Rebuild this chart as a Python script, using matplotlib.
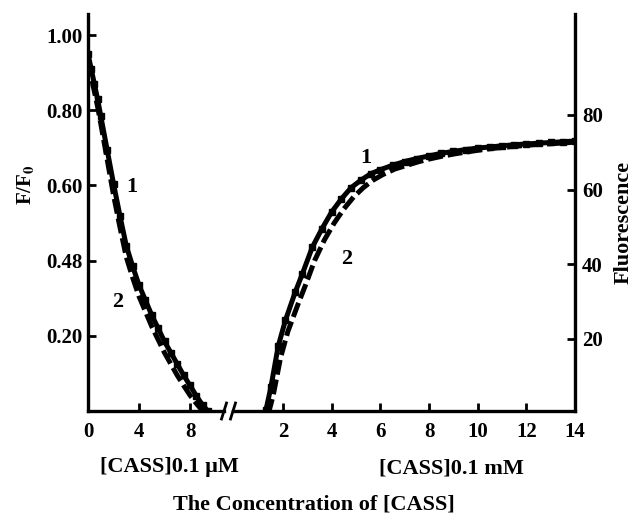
import matplotlib
matplotlib.use("Agg")
import matplotlib.pyplot as plt

# left branch: F/F0 vs [CASS] (0.1 uM units)
left_x1 = [0, 0.25, 0.5, 0.75, 1.0, 1.5, 2.0, 2.5, 3.0, 3.5, 4.0, 4.5, 5.0,
           5.5, 6.0, 6.5, 7.0, 7.5, 8.0, 8.5, 9.0, 9.4]
left_f1 = [0.95, 0.91, 0.87, 0.83, 0.785, 0.695, 0.605, 0.52, 0.44, 0.385,
           0.335, 0.295, 0.255, 0.22, 0.185, 0.155, 0.125, 0.095, 0.068,
           0.04, 0.015, 0.0]
left_x2 = [0, 0.25, 0.5, 0.75, 1.0, 1.5, 2.0, 2.5, 3.0, 3.5, 4.0, 4.5, 5.0,
           5.5, 6.0, 6.5, 7.0, 7.5, 8.0, 8.5, 9.0]
left_f2 = [0.93, 0.89, 0.85, 0.81, 0.765, 0.67, 0.575, 0.49, 0.41, 0.355,
           0.305, 0.265, 0.225, 0.19, 0.155, 0.125, 0.095, 0.068, 0.042,
           0.02, 0.0]

# right branch: fluorescence vs [CASS] (0.1 mM units)
right_x1 = [1.3, 1.5, 1.8, 2.1, 2.5, 2.8, 3.2, 3.6, 4.0, 4.4, 4.8, 5.2, 5.6,
            6.0, 6.5, 7.0, 7.5, 8.0, 8.5, 9.0, 9.5, 10, 10.5, 11, 11.5, 12,
            12.5, 13, 13.5, 14]
right_fl1 = [1, 7, 18, 25, 32.5, 37.5, 44.5, 49.5, 54, 57.5, 60.5, 62.5,
             64.2, 65.3, 66.5, 67.5, 68.3, 69.0, 69.7, 70.2, 70.7, 71.1, 71.4,
             71.7, 72.0, 72.2, 72.4, 72.6, 72.8, 73.0]
right_x2 = [1.4, 1.6, 1.9, 2.2, 2.6, 2.9, 3.3, 3.7, 4.1, 4.5, 4.9, 5.3, 5.7,
            6.1, 6.6, 7.1, 7.6, 8.1, 8.6, 9.1, 9.6, 10.1, 10.6, 11.1, 11.6,
            12.1, 12.6, 13.1, 13.6, 14]
right_fl2 = [0, 5, 15, 22, 29, 34, 41, 46.5, 51, 54.8, 58, 60.5, 62.5, 64,
             65.5, 66.5, 67.5, 68.3, 69.0, 69.6, 70.1, 70.6, 71.0, 71.3, 71.6,
             71.9, 72.1, 72.3, 72.5, 72.7]

left_ticks = [0.2, 0.4, 0.6, 0.8, 1.0]
left_ticklabels = ["0.20", "0.48", "0.60", "0.80", "1.00"]
right_ticks = [20, 40, 60, 80]

plt.rcParams["font.family"] = "Liberation Serif"
plt.rcParams["font.weight"] = "bold"
plt.rcParams["mathtext.fontset"] = "stix"

W, H = 635, 514
fig = plt.figure(figsize=(W / 100, H / 100), dpi=100)


def px(x0, y0, x1, y1):
    # pixel box -> figure fraction rect
    return [x0 / W, 1 - y1 / H, (x1 - x0) / W, (y1 - y0) / H]


ax1 = fig.add_axes(px(88, 14, 224, 411))
ax2 = fig.add_axes(px(233, 14, 575, 411))

ax1.set_xlim(0, (224 - 88) / 12.75)
ax1.set_ylim(0, 1.056)
ax2.set_xlim(2 - (283 - 233) / 24.33, 14)
ax2.set_ylim(0.7, 107)

lw = 3.6
ax1.plot(left_x1, left_f1, color="black", lw=lw, marker="s", ms=4.5)
ax1.plot(left_x2, left_f2, color="black", lw=lw, ls=(0, (3, 1)))
ax2.plot(right_x1, right_fl1, color="black", lw=lw, marker="s", ms=4.5)
ax2.plot(right_x2, right_fl2, color="black", lw=lw, ls=(0, (3, 1)))

for ax in (ax1, ax2):
    ax.spines["top"].set_visible(False)
    for s in ax.spines.values():
        s.set_linewidth(2.4)
    ax.tick_params(direction="in", length=6, width=2, labelsize=15)
    ax.set_facecolor("none")

ax1.spines["right"].set_visible(False)
ax2.spines["left"].set_visible(False)

ax1.set_xticks([0, 4, 8])
ax1.set_yticks(left_ticks)
ax1.set_yticklabels(left_ticklabels)
ax1.tick_params(axis="x", pad=8)
ax1.tick_params(axis="y", pad=4)

ax2.set_xticks([2, 4, 6, 8, 10, 12, 14])
ax2.yaxis.tick_right()
ax2.set_yticks(right_ticks)
ax2.tick_params(axis="x", pad=8)
ax2.tick_params(axis="y", pad=5)

# axis break marks
for xb in (224, 233):
    fig.add_artist(plt.Line2D([(xb - 2.5) / W, (xb + 2.5) / W],
                              [1 - 419 / H, 1 - 403 / H],
                              color="black", lw=2))

# curve labels
ax1.text(3.4, 0.595, "1", fontsize=16, ha="center", va="center")
ax1.text(2.3, 0.29, "2", fontsize=16, ha="center", va="center")
ax2.text(5.4, 68.5, "1", fontsize=16, ha="center", va="center")
ax2.text(4.6, 41.5, "2", fontsize=16, ha="center", va="center")

fig.text(25 / W, 1 - 185 / H, r"F/F$_\mathbf{0}$", rotation=90,
         fontsize=15, ha="center", va="center")
fig.text(624 / W, 1 - 222 / H, "Fluorescence", rotation=90,
         fontsize=16, ha="center", va="center")
fig.text(169 / W, 1 - 467 / H, "[CASS]0.1 \u03bcM", fontsize=16,
         ha="center", va="center")
fig.text(451 / W, 1 - 468 / H, "[CASS]0.1 mM", fontsize=16,
         ha="center", va="center")
fig.text(314 / W, 1 - 505 / H, "The Concentration of [CASS]", fontsize=16,
         ha="center", va="center")

fig.savefig("out.png", dpi=100)
